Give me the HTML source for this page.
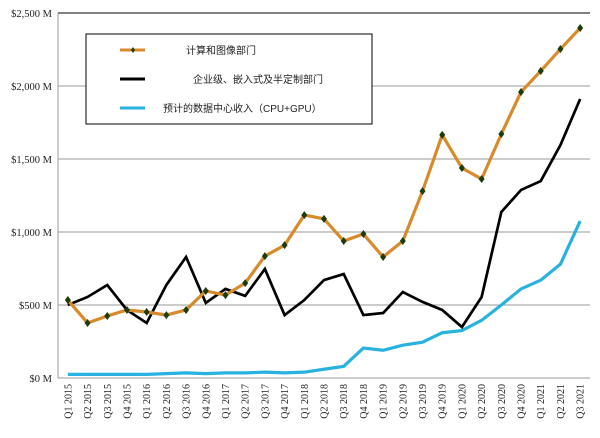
<!DOCTYPE html>
<html><head><meta charset="utf-8"><style>
body{margin:0;background:#fff;}
svg text{font-family:"Liberation Serif","Noto Serif CJK SC",serif;}
svg text.sans{font-family:"Liberation Sans","Noto Sans CJK SC",sans-serif;}
</style></head><body>
<svg id="chart" width="600" height="433" xmlns="http://www.w3.org/2000/svg"></svg>
<script>
const categories=["Q1 2015","Q2 2015","Q3 2015","Q4 2015","Q1 2016","Q2 2016","Q3 2016","Q4 2016","Q1 2017","Q2 2017","Q3 2017","Q4 2017","Q1 2018","Q2 2018","Q3 2018","Q4 2018","Q1 2019","Q2 2019","Q3 2019","Q4 2019","Q1 2020","Q2 2020","Q3 2020","Q4 2020","Q1 2021","Q2 2021","Q3 2021"];
const computeGraphics=[534,377,425,466,452,431,466,596,568,650,835,910,1116,1090,938,986,829,938,1280,1665,1438,1363,1671,1959,2103,2253,2397];
const enterpriseSemi=[500,555,637,466,377,637,829,514,610,562,747,431,534,671,712,431,445,589,521,466,349,555,1137,1288,1349,1596,1911];
const dataCenter=[25,25,25,25,25,30,35,30,35,35,40,35,40,60,80,205,190,225,245,310,325,395,500,610,670,780,1075];
const yTicks=[0,500,1000,1500,2000,2500];
const yTickLabels=["$0 M","$500 M","$1,000 M","$1,500 M","$2,000 M","$2,500 M"];

const NS="http://www.w3.org/2000/svg";
const svg=document.getElementById('chart');
const L=58,R=590,T=13,B=378,YMAX=2500;
const band=(R-L)/categories.length;
const x=i=>L+band*(i+0.5);
const y=v=>B-(v/YMAX)*(B-T);
function mk(tag,attrs,parent){const e=document.createElementNS(NS,tag);for(const k in attrs)e.setAttribute(k,attrs[k]);(parent||svg).appendChild(e);return e;}

yTicks.forEach((t,i)=>{
  const g=mk('line',{x1:L,x2:R,y1:y(t),y2:y(t),stroke:i===yTicks.length-1?'#000':'#999','stroke-width':1});
  
  
  const tx=mk('text',{x:L-6,y:y(t)+4,'text-anchor':'end','font-size':10.5,fill:'#222'});
  tx.textContent=yTickLabels[i];
  
  
});
const ax=mk('line',{x1:L,x2:L,y1:T,y2:B,stroke:'#999','stroke-width':1});



categories.forEach((c,i)=>{
  const tx=mk('text',{x:0,y:0,'text-anchor':'end','font-size':10,fill:'#222',transform:`translate(${x(i)+3.5},${B+6}) rotate(-90)`});
  tx.textContent=c;
  
  
});

function line(arr,color,w,name){
  const p=mk('polyline',{points:arr.map((v,i)=>x(i)+','+y(v)).join(' '),fill:'none',stroke:color,'stroke-width':w,'stroke-linejoin':'miter'});
  
  
}
line(dataCenter,'#27b2e0',3.2,'data-center-line');
line(enterpriseSemi,'#000',2.7,'enterprise-line');
line(computeGraphics,'#d98a2b',3.2,'compute-graphics-line');
computeGraphics.forEach((v,i)=>{
  const m=mk('path',{d:`M${x(i)},${y(v)-4}L${x(i)+3},${y(v)}L${x(i)},${y(v)+4}L${x(i)-3},${y(v)}Z`,fill:'#1a3d0a'});
  
  
});

const lg=mk('g',{});


mk('rect',{x:86,y:34,width:286,height:90,fill:'#fff',stroke:'#000','stroke-width':1},lg);
const items=[["#d98a2b","计算和图像部门",186,true],["#000","企业级、嵌入式及半定制部门",193,false],["#27b2e0","预计的数据中心收入（CPU+GPU）",163,false]];
items.forEach((it,k)=>{
  const yy=50+k*29;
  const l=mk('line',{x1:120,x2:145,y1:yy,y2:yy,stroke:it[0],'stroke-width':3},lg);
  
  
  if(it[3]){mk('path',{d:`M133,${yy-3}L135,${yy}L133,${yy+3}L131,${yy}Z`,fill:'#1a3d0a'},lg);}
  const t=mk('text',{x:it[2],y:yy+4,'font-size':10,fill:'#222','class':'sans'},lg);
  t.textContent=it[1];
  
  
});
</script>
</body></html>
